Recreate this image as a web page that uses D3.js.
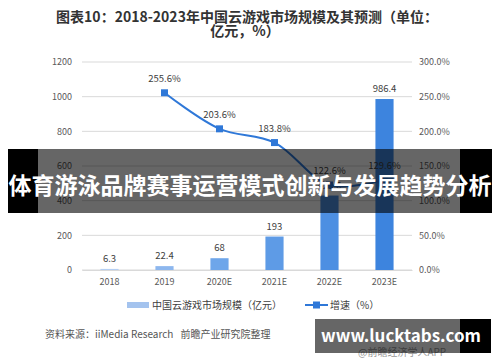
<!DOCTYPE html>
<html>
<head>
<meta charset="utf-8">
<script src="https://cdn.jsdelivr.net/npm/d3@7"></script>
<style>
  body { margin: 0; background: #fff; }
  text { font-family: "Noto Sans CJK SC", "Noto Sans", sans-serif; }
</style>
</head>
<body>
<div id="chart-area"></div>
<script>
const WIDTH = 500;
const HEIGHT = 362;

const years = ['2018', '2019', '2020E', '2021E', '2022E', '2023E'];
const marketSize = [6.3, 22.4, 68, 193, 429.6, 986.4];
const growthRate = [null, 255.6, 203.6, 183.8, 122.6, 129.6];
const leftTicks = [0, 200, 400, 600, 800, 1000, 1200];
const rightTicks = [0, 50, 100, 150, 200, 250, 300];

const PLOT = {left: 82, right: 412, top: 62, bottom: 270};
const BLUE = '#2f78d8';

main();

function main() {
  const svg = d3.select('#chart-area').append('svg')
    .attr('width', WIDTH)
    .attr('height', HEIGHT);
  svg.append('rect').attr('width', WIDTH).attr('height', HEIGHT).attr('fill', '#fff');

  drawTitle(svg);
  drawChart(svg);
  drawLegend(svg);
  drawFooter(svg);
  drawOverlays(svg);
}

function drawTitle(svg) {
  const t = svg.append('text')
    .attr('text-anchor', 'middle')
    .attr('font-size', 14)
    .attr('font-weight', 'bold')
    .attr('fill', '#333');
  t.append('tspan').attr('x', 247).attr('y', 22)
    .text('图表10：2018-2023年中国云游戏市场规模及其预测（单位：');
  t.append('tspan').attr('x', 245).attr('y', 36).text('亿元，%）');
}

function drawChart(svg) {
  const x = d3.scaleBand()
    .domain(years)
    .range([PLOT.left, PLOT.right])
    .paddingInner(0.67)
    .paddingOuter(0.335);
  const yL = d3.scaleLinear().domain([0, 1200]).range([PLOT.bottom, PLOT.top]);
  const yR = d3.scaleLinear().domain([0, 300]).range([PLOT.bottom, PLOT.top]);
  const color = d3.scaleLinear()
    .domain([0, 1, 2, 5])
    .range(['#b5cff3', '#8db7ee', '#6ea6ea', '#3d84de']);

  // grid
  svg.append('g')
    .selectAll('line')
    .data(leftTicks)
    .enter().append('line')
    .attr('x1', PLOT.left).attr('x2', PLOT.right)
    .attr('y1', d => yL(d)).attr('y2', d => yL(d))
    .attr('stroke', '#d9d9d9')
    .attr('stroke-width', 1);

  const axisL = d3.axisLeft(yL).tickValues(leftTicks).tickSize(0).tickPadding(10)
    .tickFormat(d => `${ d }`);
  svg.append('g')
    .attr('transform', `translate(${ PLOT.left }, 0)`)
    .call(axisL)
    .call(g => g.select('.domain').remove())
    .selectAll('text')
    .attr('font-size', 9)
    .attr('fill', '#595959');

  const axisR = d3.axisRight(yR).tickValues(rightTicks).tickSize(0).tickPadding(7)
    .tickFormat(d => d.toFixed(1) + '%');
  svg.append('g')
    .attr('transform', `translate(${ PLOT.right }, 0)`)
    .call(axisR)
    .call(g => g.select('.domain').remove())
    .selectAll('text')
    .attr('font-size', 9)
    .attr('fill', '#595959');

  const axisB = d3.axisBottom(x).tickSize(0).tickPadding(9);
  svg.append('g')
    .attr('transform', `translate(0, ${ PLOT.bottom })`)
    .call(axisB)
    .call(g => g.select('.domain').attr('stroke', '#d9d9d9'))
    .selectAll('text')
    .attr('font-size', 9)
    .attr('fill', '#595959');

  // bars
  const bars = years.map((y, i) => ({year: y, value: marketSize[i], i}));
  svg.append('g')
    .selectAll('rect')
    .data(bars)
    .enter().append('rect')
    .attr('x', d => x(d.year))
    .attr('y', d => yL(d.value))
    .attr('width', x.bandwidth())
    .attr('height', d => yL(0) - yL(d.value))
    .attr('fill', d => color(d.i));

  svg.append('g')
    .selectAll('text')
    .data(bars)
    .enter().append('text')
    .attr('x', d => x(d.year) + x.bandwidth() / 2)
    .attr('y', d => yL(d.value) - 7)
    .attr('text-anchor', 'middle')
    .attr('font-size', 9.5)
    .attr('fill', '#404040')
    .text(d => d.value);

  // growth line
  const pts = years.map((y, i) => ({year: y, rate: growthRate[i]}))
    .filter(d => d.rate !== null);
  const line = d3.line()
    .x(d => x(d.year) + x.bandwidth() / 2)
    .y(d => yR(d.rate))
    .curve(d3.curveCatmullRom.alpha(0.5));
  svg.append('path')
    .datum(pts)
    .attr('d', line)
    .attr('fill', 'none')
    .attr('stroke', BLUE)
    .attr('stroke-width', 2);

  svg.append('g')
    .selectAll('rect')
    .data(pts)
    .enter().append('rect')
    .attr('x', d => x(d.year) + x.bandwidth() / 2 - 3.5)
    .attr('y', d => yR(d.rate) - 3.5)
    .attr('width', 7)
    .attr('height', 7)
    .attr('fill', BLUE);

  svg.append('g')
    .selectAll('text')
    .data(pts)
    .enter().append('text')
    .attr('x', d => x(d.year) + x.bandwidth() / 2)
    .attr('y', d => yR(d.rate) - 11)
    .attr('text-anchor', 'middle')
    .attr('font-size', 9.5)
    .attr('fill', '#404040')
    .text(d => d.rate.toFixed(1) + '%');
}

function drawLegend(svg) {
  const g = svg.append('g').attr('transform', 'translate(0, 305)');
  g.append('rect')
    .attr('x', 127).attr('y', -3).attr('width', 22).attr('height', 6)
    .attr('fill', '#a4c3ee');
  g.append('text')
    .attr('x', 152).attr('y', 4)
    .attr('font-size', 10)
    .attr('fill', '#404040')
    .text('中国云游戏市场规模（亿元）');
  g.append('line')
    .attr('x1', 305).attr('x2', 328).attr('y1', 0).attr('y2', 0)
    .attr('stroke', BLUE).attr('stroke-width', 2);
  g.append('rect')
    .attr('x', 313).attr('y', -3.5).attr('width', 7).attr('height', 7)
    .attr('fill', BLUE);
  g.append('text')
    .attr('x', 330).attr('y', 4)
    .attr('font-size', 10)
    .attr('fill', '#404040')
    .text('增速（%）');
}

function drawFooter(svg) {
  const src = svg.append('text')
    .attr('x', 45).attr('y', 338)
    .attr('font-size', 10)
    .attr('fill', '#555');
  src.append('tspan').text('资料来源：iiMedia Research');
  src.append('tspan').attr('dx', 7).text('前瞻产业研究院整理');
  svg.append('text')
    .attr('x', 358).attr('y', 356)
    .attr('font-size', 10)
    .attr('fill', '#999')
    .text('@前瞻经济学人APP');
}

function drawOverlays(svg) {
  // banner over chart
  svg.append('rect')
    .attr('x', 8).attr('y', 149).attr('width', 484).attr('height', 64)
    .attr('fill', 'rgba(0,0,0,0.6)');
  svg.append('rect')
    .attr('x', 8).attr('y', 149).attr('width', 30).attr('height', 64)
    .attr('fill', '#000');
  svg.append('rect')
    .attr('x', 460).attr('y', 149).attr('width', 32).attr('height', 64)
    .attr('fill', '#000');
  svg.append('text')
    .attr('x', 250).attr('y', 194)
    .attr('text-anchor', 'middle')
    .attr('font-size', 23)
    .attr('font-weight', 'bold')
    .attr('fill', '#fff')
    .text('体育游泳品牌赛事运营模式创新与发展趋势分析');

  // site box bottom right
  svg.append('rect')
    .attr('x', 315).attr('y', 319).attr('width', 176).attr('height', 34)
    .attr('fill', 'rgba(0,0,0,0.6)');
  svg.append('rect')
    .attr('x', 460).attr('y', 319).attr('width', 31).attr('height', 34)
    .attr('fill', '#000');
  svg.append('text')
    .attr('x', 401).attr('y', 342)
    .attr('text-anchor', 'middle')
    .attr('font-size', 17)
    .attr('font-weight', 'bold')
    .attr('fill', '#fff')
    .attr('font-family', 'DejaVu Sans')
    .text('www.lucktabs.com');
}
</script>
</body>
</html>
